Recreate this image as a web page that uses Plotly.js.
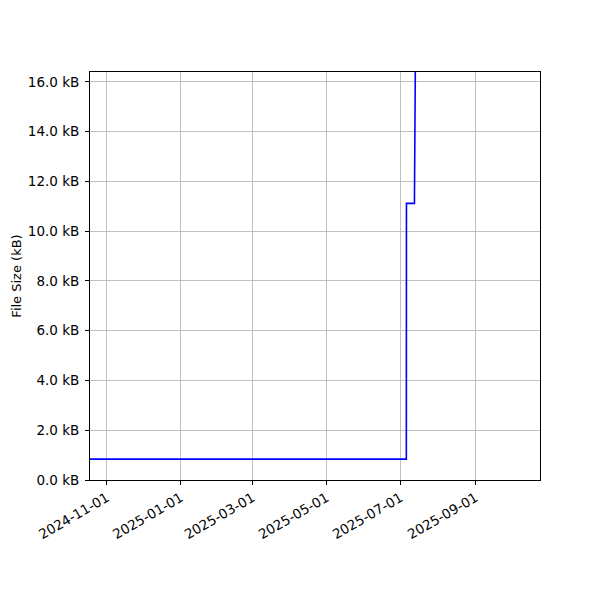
<!DOCTYPE html>
<html><head><meta charset="utf-8">
<script src="https://cdn.plot.ly/plotly-3.0.1.min.js"></script>
<style>body{margin:0;padding:0;background:#fff}#chart{width:600px;height:600px}</style>
</head><body><div id="chart"></div>
<script>
const dates = ["2024-10-01", "2025-07-05 20:00", "2025-07-05 22:00", "2025-07-12 10:00", "2025-07-12 12:00", "2025-07-13 12:00", "2025-10-31"];
const sizesKB = [0.84, 0.84, 11.12, 11.12, 11.12, 18.5, 60];
const xTickVals = ["2024-11-01", "2025-01-01", "2025-03-01", "2025-05-01", "2025-07-01", "2025-09-01"];
const yTickVals = [0, 2, 4, 6, 8, 10, 12, 14, 16];
const yTickText = yTickVals.map(v => v.toFixed(1) + " kB");
const yTitle = "File Size (kB)";

const trace = {x: dates, y: sizesKB, type: "scatter", mode: "lines",
  line: {color: "#0000ff", width: 1.6}, hoverinfo: "skip", cliponaxis: true};

const layout = {
  width: 600, height: 600,
  margin: {l: 90, r: 60, t: 72, b: 120},
  paper_bgcolor: "#fff", plot_bgcolor: "#fff",
  font: {family: "DejaVu Sans", size: 13, color: "#000"},
  showlegend: false,
  xaxis: {type: "date", range: ["2024-10-18 02:00", "2025-10-24"],
    tickvals: xTickVals, ticktext: xTickVals, tickangle: -30,
    showgrid: true, gridcolor: "#b0b0b0", gridwidth: 0.8,
    showline: true, linecolor: "#000", linewidth: 1, mirror: true,
    ticks: "outside", ticklen: 4, tickcolor: "#000", tickwidth: 1,
    zeroline: false, tickfont: {size: 13.5}},
  yaxis: {range: [0, 16.4], tickvals: yTickVals, ticktext: yTickText,
    showgrid: true, gridcolor: "#b0b0b0", gridwidth: 0.8,
    showline: true, linecolor: "#000", linewidth: 1, mirror: true,
    ticks: "outside", ticklen: 4, tickcolor: "#000", tickwidth: 1,
    ticklabelstandoff: 3,
    zeroline: false, tickfont: {size: 13.5},
    title: {text: yTitle, font: {size: 13}, standoff: 3}}
};
Plotly.newPlot("chart", [trace], layout, {staticPlot: true, displayModeBar: false});
</script></body></html>
